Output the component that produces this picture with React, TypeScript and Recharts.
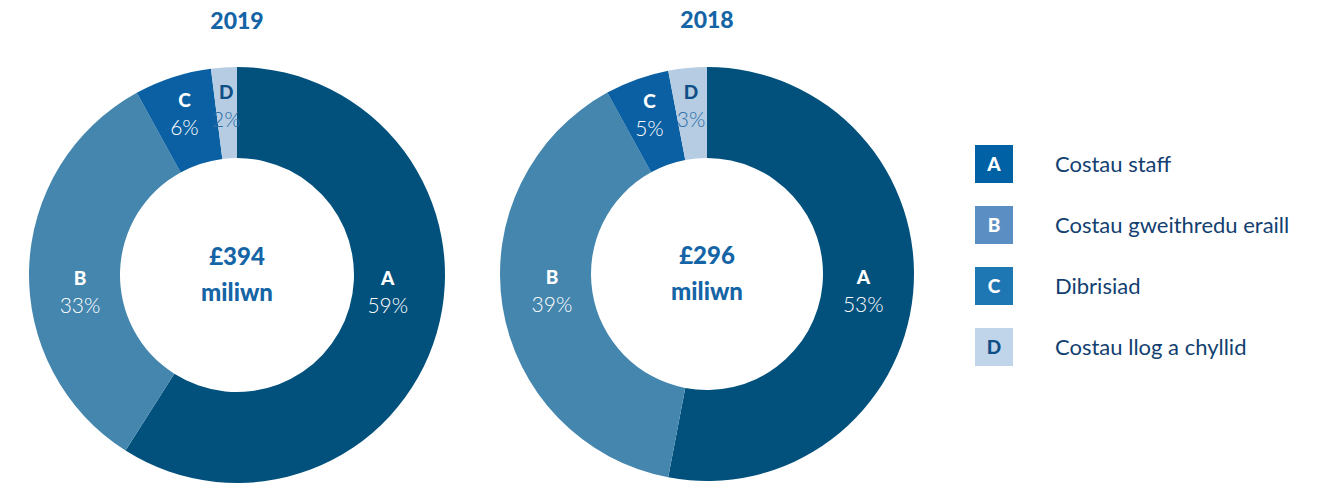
import { PieChart, Pie, Cell, Legend } from "recharts";

const keys = ["A", "B", "C", "D"];
const names = [
  "Costau staff",
  "Costau gweithredu eraill",
  "Dibrisiad",
  "Costau llog a chyllid",
];
const values2019 = [59, 33, 6, 2];
const values2018 = [53, 39, 5, 3];
const totals = ["£394", "£296"];
const years = ["2019", "2018"];

const sliceColors = ["#02517d", "#4486ae", "#0a60a2", "#b5cce2"];
const legendColors = ["#0061a4", "#5b8fc3", "#1e76b2", "#c1d5ea"];
const FONT = "Lato, 'Noto Sans', sans-serif";

const toRows = (vals: number[]) =>
  keys.map((k, i) => ({ key: k, name: names[i], value: vals[i] }));

const data2019 = toRows(values2019);
const data2018 = toRows(values2018);

const RAD = Math.PI / 180;

// slice labels; the first slice also draws the centre total and the year above
function makeLabel(idx: number) {
  return (props: any) => {
    const { cx, cy, midAngle, percent, index, payload } = props;
    const big = percent > 0.25;
    const r = big ? 157 : 170;
    const a = -midAngle * RAD;
    const x = cx + r * Math.cos(a);
    const y = big ? cy + 20 : cy + r * Math.sin(a) + 4;
    const light = index === 3;
    return (
      <g>
        <text
          x={x}
          y={y - 10}
          textAnchor="middle"
          fontFamily={FONT}
          fontWeight={900}
          fontSize={19}
          fill={light ? "#0f4f86" : "#ffffff"}
        >
          {payload.key}
        </text>
        <text
          x={x}
          y={y + 18}
          textAnchor="middle"
          fontFamily={FONT}
          fontWeight={300}
          fontSize={21}
          fill={light ? "#2f6ea8" : "#ffffff"}
        >
          {payload.value}%
        </text>
        {index === 0 && (
          <g fontFamily={FONT} fontWeight={900} fill="#1565a6" textAnchor="middle">
            <text x={cx} y={cy - 10} fontSize={24}>
              {totals[idx]}
            </text>
            <text x={cx} y={cy + 26} fontSize={24}>
              miliwn
            </text>
            <text x={cx} y={cy - 246} fontSize={23}>
              {years[idx]}
            </text>
          </g>
        )}
      </g>
    );
  };
}

function LegendBox() {
  return (
    <div style={{ fontFamily: FONT }}>
      {keys.map((k, i) => (
        <div
          key={k}
          style={{ display: "flex", alignItems: "center", height: 61 }}
        >
          <div
            style={{
              width: 38,
              height: 38,
              background: legendColors[i],
              color: i === 3 ? "#0f4f86" : "#ffffff",
              fontWeight: 900,
              fontSize: 19,
              display: "flex",
              alignItems: "center",
              justifyContent: "center",
            }}
          >
            {k}
          </div>
          <div style={{ marginLeft: 42, fontSize: 22, color: "#123f70" }}>
            {names[i]}
          </div>
        </div>
      ))}
    </div>
  );
}

export default function App() {
  return (
    <div style={{ position: "absolute", left: 0, top: 0, background: "#fff" }}>
      <PieChart
        width={1338}
        height={485}
        margin={{ top: 0, right: 0, bottom: 0, left: 0 }}
      >
        <Pie
          data={data2019}
          dataKey="value"
          cx={237}
          cy={275}
          innerRadius={117}
          outerRadius={208}
          startAngle={90}
          endAngle={-270}
          stroke="none"
          labelLine={false}
          label={makeLabel(0)}
          isAnimationActive={false}
        >
          {data2019.map((d, i) => (
            <Cell key={d.key} fill={sliceColors[i]} />
          ))}
        </Pie>
        <Pie
          data={data2018}
          dataKey="value"
          cx={707}
          cy={274}
          innerRadius={116}
          outerRadius={207}
          startAngle={90}
          endAngle={-270}
          stroke="none"
          labelLine={false}
          label={makeLabel(1)}
          isAnimationActive={false}
        >
          {data2018.map((d, i) => (
            <Cell key={d.key} fill={sliceColors[i]} />
          ))}
        </Pie>
        <Legend
          content={<LegendBox />}
          layout="vertical"
          wrapperStyle={{ position: "absolute", left: 975, top: 133, width: 362 }}
        />
      </PieChart>
    </div>
  );
}
